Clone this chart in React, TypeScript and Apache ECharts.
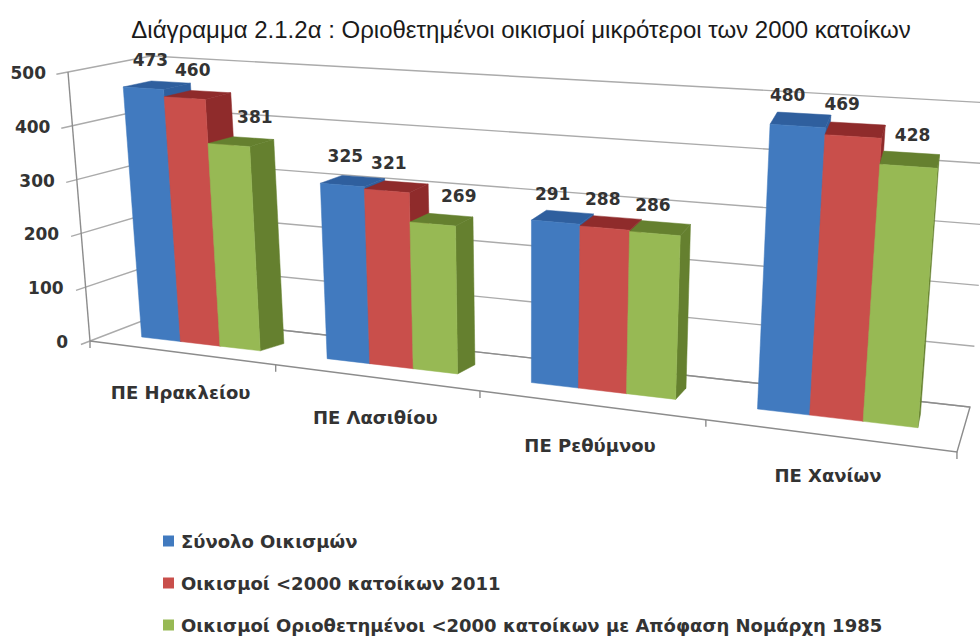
import React, { useEffect, useRef } from "react";
import * as echarts from "echarts";

const categories = ["ΠΕ Ηρακλείου", "ΠΕ Λασιθίου", "ΠΕ Ρεθύμνου", "ΠΕ Χανίων"];
const totalSettlements = [473, 325, 291, 480];
const under2000in2011 = [460, 321, 288, 469];
const delimited1985 = [381, 269, 286, 428];
const yTicks = [0, 100, 200, 300, 400, 500];
const seriesNames = [
  "Σύνολο Οικισμών",
  "Οικισμοί <2000 κατοίκων 2011",
  "Οικισμοί Οριοθετημένοι <2000 κατοίκων με Απόφαση Νομάρχη 1985",
];
const titleText = "Διάγραμμα 2.1.2α : Οριοθετημένοι οικισμοί μικρότεροι των 2000 κατοίκων";

const W = 980;
const H = 639;
const X_MAX = categories.length;
const Y_MAX = 500;
const FACE = ["#417ABF", "#C94F4B", "#97B954"];
const DARK = ["#2F5F9E", "#8F2B2B", "#65802F"];
const GRID = "#ababab";
const AXIS = "#8c8c8c";
const TEXT = "#333333";
const LABEL_FONT = 'bold 17px "DejaVu Sans"';

// per-series, per-category nudges of the value labels
const LABEL_NUDGE = [
  [[7, -28], [3, -29], [-3, -28], [-10, -31]],
  [[8, -28], [2, -28], [-2, -29], [-11, -32]],
  [[26, -28], [26, -28], [-2, -29], [4, -31]],
];

// projective map of the unit square onto the plane of the bars' front faces
const quad = { p00: [111, 333.4], p10: [963, 433], p11: [989, 125], p01: [90, 70] };
const WARP = 0.036;
function makeHomography(q: typeof quad) {
  const [x0, y0] = q.p00, [x1, y1] = q.p10, [x2, y2] = q.p11, [x3, y3] = q.p01;
  const sx = x0 - x1 + x2 - x3, sy = y0 - y1 + y2 - y3;
  const dx1 = x1 - x2, dx2 = x3 - x2, dy1 = y1 - y2, dy2 = y3 - y2;
  const det = dx1 * dy2 - dx2 * dy1;
  const g = (sx * dy2 - dx2 * sy) / det;
  const h = (dx1 * sy - sx * dy1) / det;
  const a = x1 - x0 + g * x1, b = x3 - x0 + h * x3;
  const d = y1 - y0 + g * y1, e = y3 - y0 + h * y3;
  return (u0: number, t: number) => {
    const u = u0 / (1 + WARP * (1 - u0));
    const w = g * u + h * t + 1;
    return [(a * u + b * t + x0) / w, (d * u + e * t + y0) / w];
  };
}
const project = makeHomography(quad);

// wall and floor frame
const axisBottom = [90, 341], axisTop = [68, 72];
const backBottom = [155, 316], backTop = [151, 56];
const rightBottom = [970, 407], rightTop = [992, 103];
const floorEnd = [957, 452];
const lerp = (a: number[], b: number[], t: number) => [a[0] + (b[0] - a[0]) * t, a[1] + (b[1] - a[1]) * t];
// perspective along the front edge of the floor
const floorX = (u: number) => (173.1 * u + 90) / (1 - 0.0456 * u);
const floorPoint = (u: number) => {
  const x = floorX(u);
  const k = (x - axisBottom[0]) / (floorEnd[0] - axisBottom[0]);
  return lerp(axisBottom, floorEnd, k);
};

const depth = (p: number[]) => [p[0] + 0.032 * (1000 - p[0]), p[1] - (6 + (p[0] - 124) * 0.0095)];

const GROUP_FILL = 0.65;
const unit = (params: any, c: number[]) => {
  const s = params.coordSys;
  return [(c[0] - s.x) / s.width, 1 - (c[1] - s.y) / s.height];
};

function barSeries(name: string, values: number[], idx: number) {
  return {
    type: "custom",
    name,
    coordinateSystem: "cartesian2d",
    itemStyle: { color: FACE[idx] },
    encode: { x: 0, y: 1 },
    data: values.map((v, i) => [i, v]),
    z: 3,
    renderItem: (params: any, api: any) => {
      const cat = api.value(0);
      const val = api.value(1);
      const slot = GROUP_FILL / 3;
      const u0 = cat + (1 - GROUP_FILL) / 2 + idx * slot;
      const u1 = u0 + slot;
      const pt = (u: number, v: number) => {
        const [a, b] = unit(params, api.coord([u, v]));
        return project(a, b);
      };
      const bl = pt(u0, 0), br = pt(u1, 0), tl = pt(u0, val), tr = pt(u1, val);
      const poly = (points: number[][], fill: string) => ({
        type: "polygon",
        shape: { points },
        style: { fill, stroke: fill, lineWidth: 0.5 },
      });
      const nudge = LABEL_NUDGE[idx][cat];
      const mid = [(tl[0] + tr[0]) / 2, (tl[1] + tr[1]) / 2];
      return {
        type: "group",
        children: [
          poly([br, tr, depth(tr), depth(br)], DARK[idx]),
          poly([tl, tr, depth(tr), depth(tl)], DARK[idx]),
          poly([bl, br, tr, tl], FACE[idx]),
          {
            type: "text",
            z2: 20,
            style: {
              text: String(val),
              x: mid[0] + nudge[0],
              y: mid[1] + nudge[1],
              align: "center",
              verticalAlign: "middle",
              font: LABEL_FONT,
              fill: TEXT,
            },
          },
        ],
      };
    },
  };
}

const line = (points: number[][], stroke: string, lineWidth = 1.4) => ({
  type: "polyline",
  shape: { points },
  style: { stroke, lineWidth, fill: "none" },
});

const wallSeries = {
  type: "custom",
  coordinateSystem: "cartesian2d",
  silent: true,
  z: 1,
  encode: { x: 0, y: 1 },
  data: yTicks.map((v) => [0, v]),
  renderItem: (params: any, api: any) => {
    const v = api.value(1);
    const t = unit(params, api.coord([0, v]))[1];
    const a = lerp(axisBottom, axisTop, t);
    const b = lerp(backBottom, backTop, t);
    const c = lerp(rightBottom, rightTop, t);
    const tick = [a[0] - 0.14 * (b[0] - a[0]), a[1] - 0.14 * (b[1] - a[1])];
    return {
      type: "group",
      children: [
        line([tick, a, b, c], GRID),
        {
          type: "text",
          style: {
            text: String(v),
            x: a[0] - 22,
            y: a[1] + 1,
            align: "right",
            verticalAlign: "middle",
            font: LABEL_FONT,
            fill: TEXT,
          },
        },
      ],
    };
  },
};

const floorSeries = {
  type: "custom",
  coordinateSystem: "cartesian2d",
  silent: true,
  z: 2,
  encode: { x: 0, y: 1 },
  data: [0, 1, 2, 3, 4].map((u) => [u, 0]),
  renderItem: (params: any, api: any) => {
    const u = api.value(0);
    const p = floorPoint(u);
    const children: any[] = [line([p, [p[0], p[1] + 7]], AXIS)];
    if (u === 0) {
      children.push(line([axisBottom, axisTop], AXIS));
      children.push(line([axisBottom, floorEnd, rightBottom, backBottom], AXIS));
    }
    if (u < categories.length) {
      const m = floorPoint(u + 0.5);
      children.push({
        type: "text",
        style: {
          text: categories[u],
          x: m[0],
          y: m[1] + 40,
          align: "center",
          verticalAlign: "middle",
          font: 'bold 18px "DejaVu Sans"',
          fill: TEXT,
        },
      });
    }
    return { type: "group", children };
  },
};

export default function App() {
  const ref = useRef<HTMLDivElement>(null);
  useEffect(() => {
    const chart = echarts.init(ref.current!, undefined, { renderer: "svg" });
    chart.setOption({
      animation: false,
      backgroundColor: "#ffffff",
      title: {
        text: titleText,
        left: 516,
        top: 12,
        textAlign: "center",
        textStyle: { fontFamily: '"Liberation Sans"', fontSize: 24, fontWeight: "normal", color: "#1a1a1a" },
      },
      grid: { left: 0, right: 0, top: 0, bottom: 0 },
      xAxis: { type: "value", min: 0, max: X_MAX, show: false },
      yAxis: { type: "value", min: 0, max: Y_MAX, interval: 100, show: false },
      legend: {
        show: true,
        orient: "vertical",
        left: 158,
        top: 527,
        height: 140,
        padding: 5,
        itemWidth: 11,
        itemHeight: 11,
        itemGap: 24,
        icon: "rect",
        data: seriesNames,
        textStyle: { fontFamily: '"DejaVu Sans"', fontSize: 18, fontWeight: "bold", color: TEXT, padding: [0, 0, 0, 2] },
      },
      series: [
        wallSeries,
        floorSeries,
        barSeries(seriesNames[0], totalSettlements, 0),
        barSeries(seriesNames[1], under2000in2011, 1),
        barSeries(seriesNames[2], delimited1985, 2),
      ],
    });
    return () => chart.dispose();
  }, []);
  return <div ref={ref} style={{ position: "fixed", left: 0, top: 0, width: W, height: H }} />;
}
